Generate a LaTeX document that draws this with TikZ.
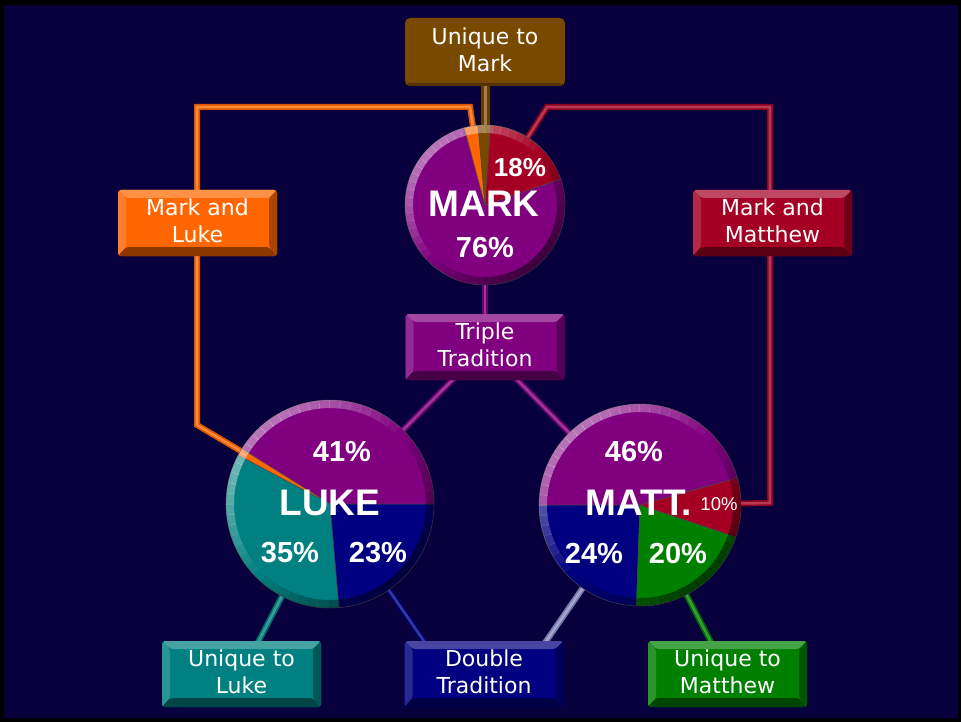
\documentclass[tikz,border=0pt]{standalone}
\usepackage{fontspec}
\setmainfont{DejaVu Sans}
\newfontfamily\labfont{Liberation Sans}
\usetikzlibrary{calc}
\definecolor{bgnavy}{RGB}{8,0,60}
\definecolor{cpurple}{RGB}{128,0,128}
\definecolor{ccrimson}{RGB}{165,0,35}
\definecolor{corange}{RGB}{255,102,0}
\definecolor{cbrown}{RGB}{122,73,0}
\definecolor{cteal}{RGB}{0,128,128}
\definecolor{cblue}{RGB}{0,0,128}
\definecolor{cgreen}{RGB}{0,128,0}
\pgfdeclarelayer{back}
\pgfdeclarelayer{conn}
\pgfsetlayers{back,conn,main}
\newcommand\pieslice[4]{\fill[#1, draw=black!70, line width=0.5pt] (0,0) -- (#2:#4) arc[start angle=#2, end angle=#3, radius=#4] -- cycle;}
\newcommand\pierim[1]{%
  \foreach \a in {0,6,...,354}{%
    \pgfmathsetmacro\wop{max(0,0.45*cos(\a+3-135))}%
    \pgfmathsetmacro\kop{max(0,-0.5*cos(\a+3-135))}%
    \draw[white, opacity=\wop, line width=8pt] (\a:#1-4) arc[start angle=\a, end angle=\a+6.2, radius=#1-4];
    \draw[black, opacity=\kop, line width=8pt] (\a:#1-4) arc[start angle=\a, end angle=\a+6.2, radius=#1-4];
  }}
\tikzset{
  x=1pt, y=-1pt,
  tube/.style={draw=#1!85!black, line width=6pt, line join=miter,
    postaction={draw=#1!78!white, line width=2.6pt}},
  pienode/.style={circle, inner sep=0pt, minimum size=#1},
  boxnode/.style={rectangle, rounded corners=3pt, minimum width=159pt, minimum height=66pt,
    inner sep=0pt, fill=#1, text=white, align=center, text depth=5pt,
    font=\fontsize{22}{27}\selectfont,
    path picture={
      \fill[#1!72!white] (path picture bounding box.north west) -- (path picture bounding box.north east)
        -- ([shift={(-8pt,-8pt)}]path picture bounding box.north east) -- ([shift={(8pt,-8pt)}]path picture bounding box.north west) -- cycle;
      \fill[#1!84!white] (path picture bounding box.north west) -- ([shift={(8pt,-8pt)}]path picture bounding box.north west)
        -- ([shift={(8pt,9pt)}]path picture bounding box.south west) -- (path picture bounding box.south west) -- cycle;
      \fill[#1!55!black] (path picture bounding box.south west) -- (path picture bounding box.south east)
        -- ([shift={(-8pt,9pt)}]path picture bounding box.south east) -- ([shift={(8pt,9pt)}]path picture bounding box.south west) -- cycle;
      \fill[#1!68!black] (path picture bounding box.north east) -- (path picture bounding box.south east)
        -- ([shift={(-8pt,9pt)}]path picture bounding box.south east) -- ([shift={(-8pt,-8pt)}]path picture bounding box.north east) -- cycle;
    }},
  flatbox/.style={rectangle, rounded corners=5pt, minimum width=160pt, minimum height=68pt,
    inner sep=0pt, fill=#1, text=white, align=center, text depth=4pt,
    font=\fontsize{22}{27}\selectfont,
    path picture={\fill[#1!70!black] ([yshift=3pt]path picture bounding box.south west) rectangle (path picture bounding box.south east);}},
  bigname/.style={text=white, anchor=base, font=\labfont\fontsize{37}{37}\selectfont\bfseries, inner sep=0pt},
  pct/.style={text=white, anchor=base, font=\labfont\fontsize{29}{29}\selectfont\bfseries, inner sep=0pt},
}
\begin{document}
\begin{tikzpicture}
\useasboundingbox (0,0) rectangle (961,722);
\begin{pgfonlayer}{back}
  \fill[black] (0,0) rectangle (961,722);
  \fill[bgnavy] (4,5) rectangle (958,718);
\end{pgfonlayer}

% pie anchors
\node[pienode=160pt] (mark) at (485,205) {};
\node[pienode=208pt] (luke) at (330,504) {};
\node[pienode=202pt] (matt) at (640,505) {};

% boxes
\node[flatbox=cbrown] (um) at (485,52) {Unique to\\Mark};
\node[boxnode=corange] (ml) at (197.5,223) {Mark and\\Luke};
\node[boxnode=ccrimson] (mm) at (772.5,223) {Mark and\\Matthew};
\node[boxnode=cpurple] (tt) at (485,347) {Triple\\Tradition};
\node[boxnode=cteal] (ul) at (241.5,674) {Unique to\\Luke};
\node[boxnode=cblue] (dt) at (484,674) {Double\\Tradition};
\node[boxnode=cgreen] (umt) at (727.5,674) {Unique to\\Matthew};
\coordinate (dtL) at (430,650);
\coordinate (dtR) at (540,650);

% connectors
\begin{pgfonlayer}{conn}
  \draw[tube=corange] (luke.center) -- (197,425) -- (197,107) -- (470,107) -- (mark.center);
  \draw[tube=ccrimson] (mark.center) -- (547,107) -- (770,107) -- (770,503) -- (matt.center);
  \draw[draw=cbrown!85!black, line width=9pt, postaction={draw=cbrown!70!white, line width=3pt}] (um.center) -- (mark.center);
  \draw[tube=cpurple] (mark.center) -- (tt.center);
  \draw[tube=cpurple] (tt.center) -- (luke.center);
  \draw[tube=cpurple] (tt.center) -- (matt.center);
  \draw[tube=cteal] (ul.center) -- (luke.center);
  \draw[tube=cblue] (luke.center) -- (dtL);
  \draw[tube={cblue!45!white}] (matt.center) -- (dtR);
  \draw[tube=cgreen] (umt.center) -- (matt.center);
\end{pgfonlayer}

% MARK pie
\begin{scope}[shift={(485,205)}, yscale=-1]
  \pieslice{cpurple}{105}{379}{80}
  \pieslice{corange}{95}{105}{80}
  \pieslice{cbrown}{86}{95}{80}
  \pieslice{ccrimson}{19}{86}{80}
  \pierim{80}
\end{scope}
% LUKE pie
\begin{scope}[shift={(330,504)}, yscale=-1]
  \pieslice{cpurple}{0}{148}{104}
  \pieslice{corange}{148}{152}{104}
  \pieslice{cteal}{152}{275}{104}
  \pieslice{cblue}{275}{360}{104}
  \pierim{104}
\end{scope}
% MATT pie
\begin{scope}[shift={(640,505)}, yscale=-1]
  \pieslice{cpurple}{15.5}{180}{101}
  \pieslice{cblue}{180}{268}{101}
  \pieslice{cgreen}{268}{341.6}{101}
  \pieslice{ccrimson}{341.6}{375.5}{101}
  \pierim{101}
\end{scope}

% pie labels
\node[bigname] (tmark) at (484,217) {MARK};
\node[pct] (p76) at (485,258) {76\%};
\node[pct, font=\labfont\fontsize{26}{26}\selectfont\bfseries] (p18) at (520,177) {18\%};
\node[bigname] (tluke) at (330,515) {LUKE};
\node[pct] (p41) at (342,461) {41\%};
\node[pct] (p35) at (290,562) {35\%};
\node[pct] (p23) at (378,562) {23\%};
\node[bigname] (tmatt) at (639,515) {MATT.};
\node[pct] (p46) at (634,461) {46\%};
\node[pct] (p24) at (594,563) {24\%};
\node[pct] (p20) at (678,563) {20\%};
\node[pct, font=\labfont\fontsize{18.5}{18.5}\selectfont] (p10) at (719,510) {10\%};
\end{tikzpicture}
\end{document}
